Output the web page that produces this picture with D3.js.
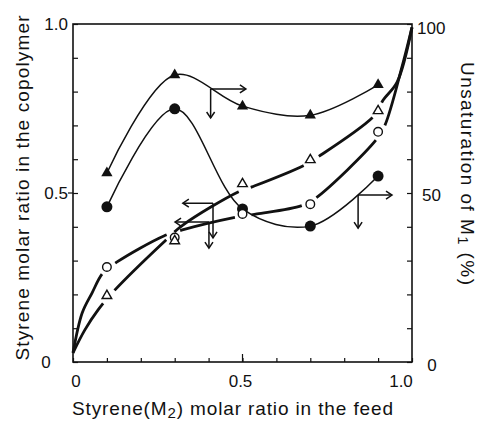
<!DOCTYPE html>
<html>
<head>
<meta charset="utf-8">
<script src="https://cdn.jsdelivr.net/npm/d3@7"></script>
<style>
  html, body { margin: 0; padding: 0; background: #fff; }
  svg { display: block; }
  text { font-family: "Liberation Sans", Arial, sans-serif; fill: #111; }
</style>
</head>
<body>
<svg id="chart" width="478" height="421"></svg>
<script>
// ---------- data ----------
const feedRatio = [0.1, 0.3, 0.5, 0.7, 0.9];
// left axis: styrene molar ratio in copolymer
const copolymerOpenCircle   = [0.281, 0.368, 0.438, 0.467, 0.681];
const copolymerOpenTriangle = [0.196, 0.358, 0.527, 0.598, 0.743];
// right axis: unsaturation of M1 (%)
const unsatFilledTriangle = [55.9, 84.9, 75.7, 73.0, 82.0];
const unsatFilledCircle   = [45.9, 74.9, 45.3, 40.2, 55.0];

// theoretical copolymer-composition curves (left axis)
const curveCircleX = [0, 0.027, 0.056, 0.088, 0.13, 0.268, 0.32, 0.484, 0.543, 0.678, 0.72, 0.894, 0.92, 0.972, 1.0];
const curveCircleY = [0.027, 0.145, 0.204, 0.263, 0.296, 0.373, 0.39, 0.429, 0.438, 0.464, 0.488, 0.657, 0.70, 0.879, 0.99];
const curveTriangleX = [0, 0.035, 0.074, 0.118, 0.265, 0.324, 0.487, 0.528, 0.678, 0.723, 0.891, 0.915, 0.956, 1.0];
const curveTriangleY = [0.027, 0.095, 0.154, 0.207, 0.352, 0.405, 0.503, 0.518, 0.58, 0.607, 0.731, 0.775, 0.828, 0.99];

// axis-indicator arrows: corner (x, y as fraction of axis), end of vertical, end of horizontal
const arrowX    = [0.406, 0.841, 0.413, 0.401];
const arrowY    = [0.808, 0.494, 0.470, 0.414];
const arrowYEnd = [0.722, 0.396, 0.367, 0.337];
const arrowXEnd = [0.510, 0.941, 0.324, 0.301];

const leftTickLabels   = ["0", "0.5", "1.0"];
const bottomTickLabels = ["0", "0.5", "1.0"];
const rightTickLabels  = ["0", "50", "100"];

// ---------- scales ----------
const svg = d3.select("#chart");
const x  = d3.scaleLinear().domain([0, 1]).range([73, 412]);
const y  = d3.scaleLinear().domain([0, 1]).range([362, 24]);
const yR = d3.scaleLinear().domain([0, 100]).range([362, 24]);
const ink = "#111";

// ---------- axes ----------
const gL = svg.append("g").attr("transform", `translate(${x(0)},0)`)
  .call(d3.axisLeft(y).tickValues(d3.range(0, 1.001, 0.1)).tickSize(-5).tickFormat(""));
const gB = svg.append("g").attr("transform", `translate(0,${y(0)})`)
  .call(d3.axisBottom(x).tickValues(d3.range(0, 1.001, 0.1)).tickSize(-4).tickFormat(""));
const gR = svg.append("g").attr("transform", `translate(${x(1)},0)`)
  .call(d3.axisRight(yR).tickValues(d3.range(0, 100.1, 10)).tickSize(-5).tickFormat(""));
[gL, gB, gR].forEach(g => {
  g.select(".domain").remove();
  g.selectAll("line").attr("stroke", ink).attr("stroke-width", 1.2);
});
// longer middle tick on x axis, outward middle tick on left axis
svg.append("line").attr("x1", x(0.5)).attr("x2", x(0.5)).attr("y1", y(0)).attr("y2", y(0) - 8)
  .attr("stroke", ink).attr("stroke-width", 1.2);
svg.append("line").attr("x1", x(0) - 5).attr("x2", x(0)).attr("y1", y(0.5)).attr("y2", y(0.5))
  .attr("stroke", ink).attr("stroke-width", 1.2);

svg.append("rect").attr("x", x(0)).attr("y", y(1)).attr("width", x(1) - x(0)).attr("height", y(0) - y(1))
  .attr("fill", "none").attr("stroke", ink).attr("stroke-width", 1.6);

// tick labels
const tfs = 17;
svg.append("text").text(leftTickLabels[0]).attr("x", 46).attr("y", y(0)).attr("dy", "0.36em")
  .attr("text-anchor", "middle").attr("font-size", tfs);
svg.append("text").text(leftTickLabels[1]).attr("x", 68).attr("y", y(0.5)).attr("dy", "0.36em")
  .attr("text-anchor", "end").attr("font-size", tfs);
svg.append("text").text(leftTickLabels[2]).attr("x", 68).attr("y", y(1)).attr("dy", "0.36em")
  .attr("text-anchor", "end").attr("font-size", tfs);

svg.append("text").text(bottomTickLabels[0]).attr("x", x(0) + 3).attr("y", 381).attr("dy", "0.36em")
  .attr("text-anchor", "middle").attr("font-size", tfs);
svg.append("text").text(bottomTickLabels[1]).attr("x", x(0.5) - 2).attr("y", 381).attr("dy", "0.36em")
  .attr("text-anchor", "middle").attr("font-size", tfs);
svg.append("text").text(bottomTickLabels[2]).attr("x", x(1) - 11).attr("y", 381).attr("dy", "0.36em")
  .attr("text-anchor", "middle").attr("font-size", tfs);

svg.append("text").text(rightTickLabels[0]).attr("x", 432).attr("y", yR(0) + 3).attr("dy", "0.36em")
  .attr("text-anchor", "middle").attr("font-size", tfs);
svg.append("text").text(rightTickLabels[1]).attr("x", 422).attr("y", yR(50) + 2).attr("dy", "0.36em")
  .attr("text-anchor", "start").attr("font-size", tfs);
svg.append("text").text(rightTickLabels[2]).attr("x", 417).attr("y", yR(100) + 4).attr("dy", "0.36em")
  .attr("text-anchor", "start").attr("font-size", tfs);

// axis titles
svg.append("text").attr("transform", "translate(29,188) rotate(-90)")
  .attr("text-anchor", "middle").attr("font-size", 19)
  .attr("textLength", 345).attr("lengthAdjust", "spacing")
  .text("Styrene molar ratio in the copolymer");

const tb = svg.append("text").attr("x", 72).attr("y", 415).attr("font-size", 19)
  .attr("textLength", 321).attr("lengthAdjust", "spacing");
tb.append("tspan").text("Styrene(M");
tb.append("tspan").text("2").attr("font-size", 15).attr("dy", 3);
tb.append("tspan").text(") molar ratio in the feed").attr("dy", -3);

const tr = svg.append("text").attr("transform", "translate(461,62) rotate(90)")
  .attr("font-size", 19).attr("textLength", 223).attr("lengthAdjust", "spacing");
tr.append("tspan").text("Unsaturation of M");
tr.append("tspan").text("1").attr("font-size", 15).attr("dy", 3);
tr.append("tspan").text(" (%)").attr("dy", -3);

// ---------- curves ----------
const lineGen = d3.line().x(d => x(d[0])).y(d => d[1]).curve(d3.curveCatmullRom.alpha(0.5));

function brokenCurve(cx, cy, mx, my, gap) {
  const pts = cx.map((v, i) => [v, y(cy[i])]);
  const p = svg.append("path").attr("d", lineGen(pts)).attr("fill", "none")
    .attr("stroke", ink).attr("stroke-width", 2.8).attr("stroke-linecap", "butt");
  const node = p.node();
  const L = node.getTotalLength();
  const marks = mx.map((v, i) => [x(v), y(my[i])]);
  const dash = [];
  let on = true, run = 0, step = 0.5;
  for (let s = 0; s <= L; s += step) {
    const q = node.getPointAtLength(s);
    const inGap = marks.some(m => Math.hypot(q.x - m[0], q.y - m[1]) < gap);
    const want = !inGap;
    if (want === on) run += step;
    else { dash.push(run); run = step; on = want; }
  }
  dash.push(run);
  if (dash.length > 1) p.attr("stroke-dasharray", dash.join(","));
}
brokenCurve(curveCircleX, curveCircleY, feedRatio, copolymerOpenCircle, 9);
brokenCurve(curveTriangleX, curveTriangleY, feedRatio, copolymerOpenTriangle, 9);

function thinCurve(vals) {
  const pts = feedRatio.map((v, i) => [v, yR(vals[i])]);
  svg.append("path").attr("d", lineGen(pts)).attr("fill", "none")
    .attr("stroke", ink).attr("stroke-width", 1.5);
}
thinCurve(unsatFilledTriangle);
thinCurve(unsatFilledCircle);

// ---------- markers ----------
const tri = d3.symbol().type(d3.symbolTriangle);
svg.append("g").selectAll("path").data(feedRatio).join("path")
  .attr("d", tri.size(55)())
  .attr("transform", (d, i) => `translate(${x(d)},${yR(unsatFilledTriangle[i])})`)
  .attr("fill", ink);
svg.append("g").selectAll("circle").data(feedRatio).join("circle")
  .attr("cx", d => x(d)).attr("cy", (d, i) => yR(unsatFilledCircle[i])).attr("r", 5.5)
  .attr("fill", ink);
svg.append("g").selectAll("circle").data(feedRatio).join("circle")
  .attr("cx", d => x(d)).attr("cy", (d, i) => y(copolymerOpenCircle[i])).attr("r", 4.3)
  .attr("fill", "#fff").attr("stroke", ink).attr("stroke-width", 1.4);
svg.append("g").selectAll("path").data(feedRatio).join("path")
  .attr("d", d3.symbol().type(d3.symbolTriangle).size(40)())
  .attr("transform", (d, i) => `translate(${x(d)},${y(copolymerOpenTriangle[i])})`)
  .attr("fill", "#fff").attr("stroke", ink).attr("stroke-width", 1.4);

// ---------- arrows ----------
const ag = svg.append("g").attr("fill", "none").attr("stroke", ink).attr("stroke-width", 1.5);
arrowX.forEach((ax, i) => {
  const px = x(ax), py = y(arrowY[i]), pyE = y(arrowYEnd[i]), pxE = x(arrowXEnd[i]);
  ag.append("path").attr("d", `M${px},${py}V${pyE}M${px},${py}H${pxE}`);
  ag.append("path").attr("d", `M${px - 4},${pyE - 6}L${px},${pyE}L${px + 4},${pyE - 6}`);
  const dir = pxE > px ? 1 : -1;
  ag.append("path").attr("d", `M${pxE - dir * 6},${py - 4}L${pxE},${py}L${pxE - dir * 6},${py + 4}`);
});
</script>
</body>
</html>
